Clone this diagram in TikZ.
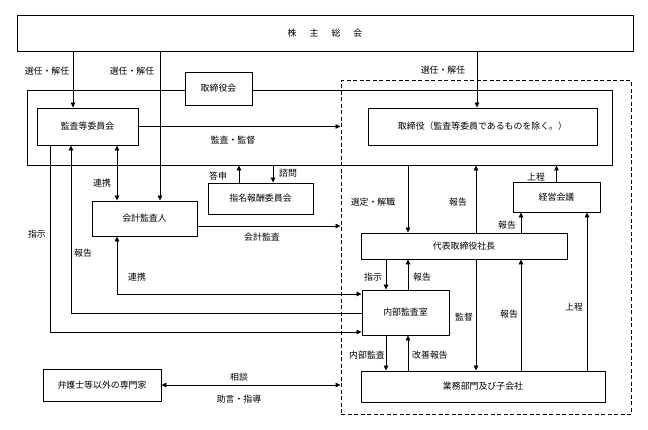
\documentclass[tikz,border=0pt]{standalone}
\usepackage{fontspec}
\usepackage{tikz}
\usetikzlibrary{arrows.meta}
\newfontfamily\jpfont{Noto Sans CJK JP}

\begin{document}
\begin{tikzpicture}[x=1pt, y=-1pt,
      font=\jpfont\fontsize{8.9}{10}\selectfont,
      box/.style={draw, line width=0.9pt, align=center, inner sep=2pt},
      flow/.style={-{Triangle[length=5pt, width=4.5pt]}, line width=0.7pt},
      twoway/.style={{Triangle[length=5pt, width=4.5pt]}-{Triangle[length=5pt, width=4.5pt]}, line width=0.7pt},
      lbl/.style={inner sep=1pt}
    ]
    \useasboundingbox (0,0) rectangle (648,430);

    % --- Boxes ---------------------------------------------------------------
    \node[box, minimum width=616pt, minimum height=36pt] (gm) at (325,33)
      {株\hspace{13pt}主\hspace{13pt}総\hspace{13pt}会};
    \node[draw, dash pattern=on 4pt off 2.5pt, line width=1pt,
          minimum width=290pt, minimum height=333pt] (grp) at (486,247.5) {};
    \node[box, minimum width=585pt, minimum height=75pt] (board) at (319.5,127.5) {};
    \node[box, fill=white, minimum width=67pt, minimum height=33pt] (bod) at (218.5,88.5)
      {取締役会};

    \node[box, minimum width=101pt, minimum height=37pt] (acm) at (87.5,126.5)
      {監査等委員会};
    \node[box, minimum width=229pt, minimum height=37pt] (dir) at (482.5,126.5)
      {取締役（監査等委員であるものを除く。）};
    \node[box, minimum width=105pt, minimum height=31pt] (nrc) at (260.5,198.5)
      {指名報酬委員会};
    \node[box, minimum width=105pt, minimum height=35pt] (aud) at (144.5,218.5)
      {会計監査人};
    \node[box, minimum width=87pt, minimum height=30pt] (mgm) at (556.5,197)
      {経営会議};
    \node[box, minimum width=206pt, minimum height=26pt] (ceo) at (464,246)
      {代表取締役社長};
    \node[box, minimum width=87pt, minimum height=45pt] (iad) at (405.5,312.5)
      {内部監査室};
    \node[box, minimum width=244pt, minimum height=31pt] (ops) at (483,386.5)
      {業務部門及び子会社};
    \node[box, minimum width=118pt, minimum height=32pt] (exp) at (102,385)
      {弁護士等以外の専門家};

    % --- Shareholders and board ----------------------------------------------
    \draw[flow] (gm.south -| 73,0) -- (acm.north -| 73,0);
    \draw[flow] (gm.south -| 160,0) -- (aud.north -| 160,0);
    \draw[flow] (gm.south -| 477,0) -- (dir.north -| 477,0);
    \node[lbl] (l1) at (47,71) {選任・解任};
    \node[lbl] (l2) at (132,71) {選任・解任};
    \node[lbl] (l3) at (443,70) {選任・解任};

    \draw[flow] (acm.east) -- (grp.west |- acm.east);
    \node[lbl] (l4) at (233,140) {監査・監督};
    \draw[twoway] (acm.south -| 117,0) -- (aud.north -| 117,0);
    \node[lbl] (l5) at (102,183) {連携};

    \draw[flow] (nrc.north -| 239,0) -- (board.south -| 239,0);
    \draw[flow] (board.south -| 273,0) -- (nrc.north -| 273,0);
    \node[lbl] (l6) at (218,176) {答申};
    \node[lbl] (l7) at (288,173) {諮問};

    \draw[flow] (aud.east |- 0,226) -- (grp.west |- 0,226);
    \node[lbl] (l8) at (262,237) {会計監査};

    % Audit committee and accounting auditor to the internal audit office.
    \draw[flow] (acm.south -| 50,0) |- (iad.west |- 0,332);
    \draw[flow] (iad.west |- 0,313) -| (acm.south -| 71,0);
    \draw[twoway] (iad.west |- 0,294) -| (aud.south -| 117,0);
    \node[lbl] (l9) at (37,234) {指示};
    \node[lbl] (l10) at (83,253) {報告};
    \node[lbl] (l11) at (137,277) {連携};

    % --- Executive side ------------------------------------------------------
    \draw[flow] (board.south -| 408,0) -- (ceo.north -| 408,0);
    \draw[flow] (ceo.north -| 476,0) -- (board.south -| 476,0);
    \draw[flow] (mgm.north) -- (board.south -| mgm.north);
    \draw[flow] (ceo.north -| 521,0) -- (mgm.south -| 521,0);
    \node[lbl] (l12) at (373,202) {選定・解職};
    \node[lbl] (l13) at (458,202) {報告};
    \node[lbl] (l14) at (536,177) {上程};
    \node[lbl] (l15) at (507,225) {報告};

    \draw[flow] (ceo.south -| 386,0) -- (iad.north -| 386,0);
    \draw[flow] (iad.north -| 408,0) -- (ceo.south -| 408,0);
    \node[lbl] (l16) at (373,277) {指示};
    \node[lbl] (l17) at (422,277) {報告};

    \draw[flow] (ceo.south -| 476,0) -- (ops.north -| 476,0);
    \draw[flow] (ops.north -| 521,0) -- (ceo.south -| 521,0);
    \draw[flow] (ops.north -| 587,0) -- (mgm.south -| 587,0);
    \node[lbl] (l18) at (464,317) {監督};
    \node[lbl] (l19) at (509,314) {報告};
    \node[lbl] (l20) at (574,307) {上程};

    \draw[flow] (iad.south -| 386,0) -- (ops.north -| 386,0);
    \draw[flow] (ops.north -| 408,0) -- (iad.south -| 408,0);
    \node[lbl] (l21) at (367,355) {内部監査};
    \node[lbl] (l22) at (430,355) {改善報告};

    % --- Outside experts ----------------------------------------------------
    \draw[twoway] (exp.east) -- (grp.west |- exp.east);
    \node[lbl] (l23) at (239,377) {相談};
    \node[lbl] (l24) at (239,399) {助言・指導};
  \end{tikzpicture}
\end{document}
